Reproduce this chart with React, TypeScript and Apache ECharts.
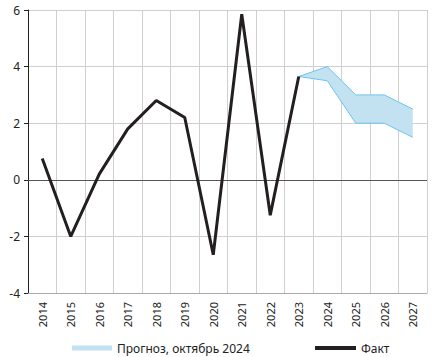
import React, { useEffect, useRef } from "react";
import * as echarts from "echarts";

const years = ["2014","2015","2016","2017","2018","2019","2020","2021","2022","2023","2024","2025","2026","2027"];
const fact = [0.75, -2.0, 0.2, 1.8, 2.8, 2.2, -2.65, 5.85, -1.25, 3.65, null, null, null, null];
const forecastLow = [null, null, null, null, null, null, null, null, null, 3.65, 3.5, 2.0, 2.0, 1.5];
const forecastHigh = [null, null, null, null, null, null, null, null, null, 3.65, 4.0, 3.0, 3.0, 2.5];
const yTicks = { min: -4, max: 6, interval: 2 };

const FONT = "'Noto Sans', Roboto, sans-serif";
const BAND_FILL = "#c3e2f1";
const BAND_LINE = "#6cc5ee";

export default function App() {
  const ref = useRef<HTMLDivElement>(null);
  useEffect(() => {
    if (!ref.current) return;
    const chart = echarts.init(ref.current, undefined, { renderer: "svg" });
    const diff = forecastHigh.map((h, i) => (h == null || forecastLow[i] == null ? null : +(h - (forecastLow[i] as number)).toFixed(3)));
    chart.setOption({
      animation: false,
      textStyle: { fontFamily: FONT },
      grid: { left: 28, right: 6, top: 10, bottom: 64, containLabel: false },
      legend: [
        {
          data: [{ name: "Прогноз, октябрь 2024", icon: "rect", itemStyle: { color: BAND_FILL, borderWidth: 0 } }],
          left: 67, top: 337, itemWidth: 40, itemHeight: 5, itemGap: 5,
          textStyle: { fontFamily: FONT, fontSize: 12, color: "#222" },
          selectedMode: false,
        },
        {
          data: [{ name: "Факт", icon: "rect", itemStyle: { color: "#231f20" } }],
          left: 310, top: 337, itemWidth: 41, itemHeight: 4, itemGap: 3,
          textStyle: { fontFamily: FONT, fontSize: 12, color: "#222" },
          selectedMode: false,
        },
      ],
      xAxis: {
        type: "category",
        data: years,
        boundaryGap: true,
        axisLine: { onZero: false, lineStyle: { color: "#aaa" } },
        axisTick: { show: false },
        axisLabel: { rotate: 90, fontSize: 11, color: "#222", margin: 9, fontFamily: FONT },
        splitLine: { show: true, lineStyle: { color: "#cfcfcf", width: 1 } },
      },
      yAxis: {
        type: "value",
        min: yTicks.min, max: yTicks.max, interval: yTicks.interval,
        axisLine: { show: true, lineStyle: { color: "#222" } },
        axisTick: { show: true, length: 4, lineStyle: { color: "#222" } },
        axisLabel: { fontSize: 12, color: "#222", margin: 8, fontFamily: FONT },
        splitLine: { show: true, lineStyle: { color: "#cfcfcf", width: 1 } },
      },
      series: [
        {
          name: "lowBase",
          type: "line",
          stack: "band",
          data: forecastLow,
          symbol: "none",
          lineStyle: { color: BAND_LINE, width: 1 },
          areaStyle: { opacity: 0 },
          silent: true,
          z: 2,
        },
        {
          name: "Прогноз, октябрь 2024",
          type: "line",
          stack: "band",
          data: diff,
          symbol: "none",
          lineStyle: { color: BAND_LINE, width: 1 },
          itemStyle: { color: BAND_FILL },
          areaStyle: { color: BAND_FILL, opacity: 1 },
          silent: true,
          z: 2,
        },
        {
          name: "Факт",
          type: "line",
          data: fact,
          symbol: "none",
          lineStyle: { color: "#231f20", width: 3 },
          itemStyle: { color: "#231f20" },
          z: 4,
          markLine: {
            silent: true,
            symbol: "none",
            label: { show: false },
            lineStyle: { color: "#555", width: 1, type: "solid" },
            data: [{ yAxis: 0 }],
            z: 1,
          },
        },
      ],
    });
    return () => chart.dispose();
  }, []);
  return <div ref={ref} style={{ width: 433, height: 357, position: "absolute", left: 0, top: 0 }} />;
}
